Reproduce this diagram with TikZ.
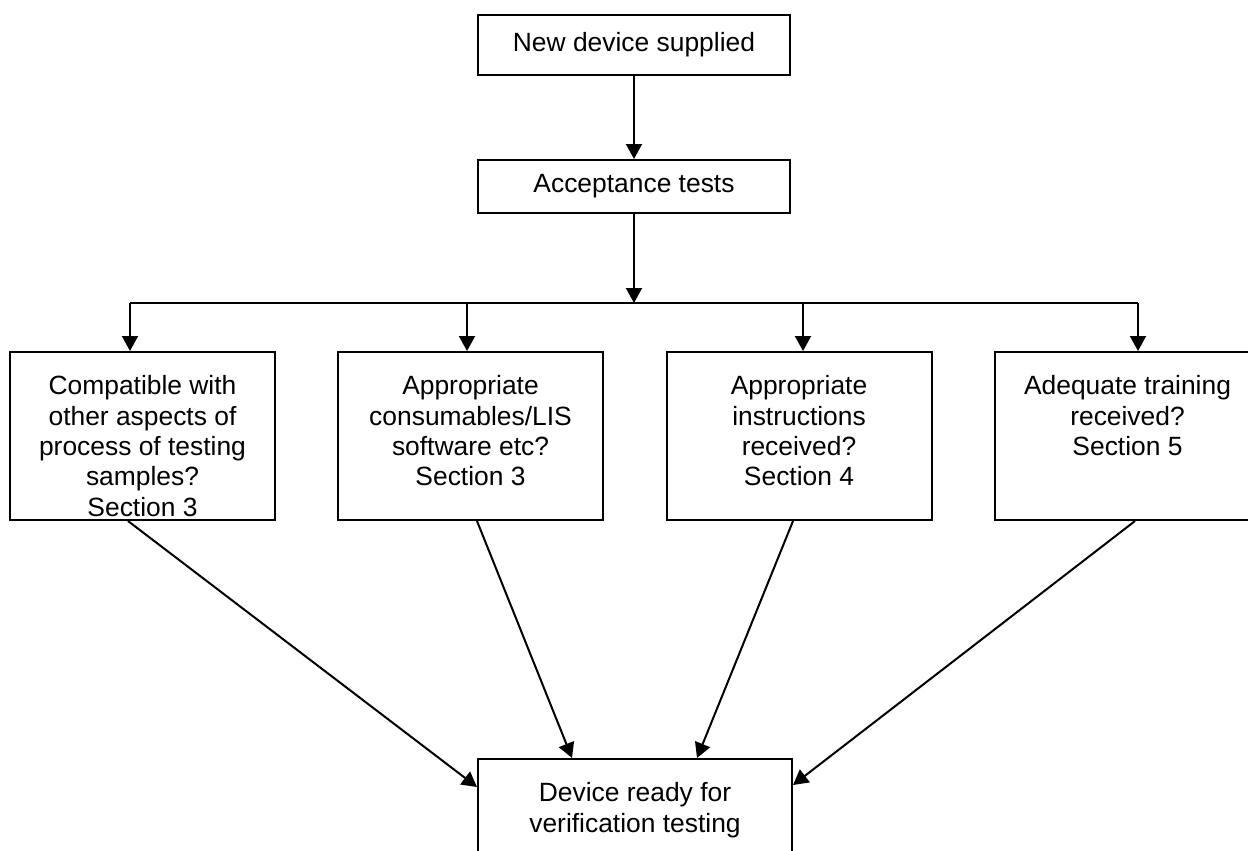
\documentclass[tikz,border=0pt]{standalone}
\usepackage{fontspec}
\setmainfont{Liberation Sans}
\usetikzlibrary{arrows.meta,positioning}

% lines hung from the first baseline, so text sits at the top of a box
\newcommand{\qlines}[1]{\begin{tabular}[t]{@{}c@{}}#1\end{tabular}}

\begin{document}
\begin{tikzpicture}[
  x=0.5bp, y=-0.5bp,
  font=\fontsize{13.2bp}{15.2bp}\selectfont,
  box/.style={draw, line width=1bp, inner xsep=3bp, fill=white},
  tbox/.style={box, minimum width=156bp, minimum height=30bp},
  qbox/.style={box, anchor=north, minimum width=132.5bp, inner ysep=10.5bp,
    text height=10.8bp, text depth=52.2bp},
  arr/.style={-{Triangle[length=7.5bp, width=8bp]}, line width=1bp},
  link/.style={line width=1bp}
]
\path[use as bounding box] (0,0) rectangle (1248,850);
\clip (0,0) rectangle (1248,850);

% intake chain
\node[tbox] (new) at (634,45) {New device supplied};
\node[tbox, minimum height=26.5bp] (acc) at (634,186.5) {Acceptance tests};
\coordinate (j) at (634,303);

% the four checks
\node[qbox] (b1) at (142.5,351) {\qlines{Compatible with\\other aspects of\\process of testing\\samples?\\Section 3}};
\node[qbox] (b2) at (470.5,351) {\qlines{Appropriate\\consumables/LIS\\software etc?\\Section 3}};
\node[qbox] (b3) at (799,351) {\qlines{Appropriate\\instructions\\received?\\Section 4}};
\node[qbox] (b4) at (1127.5,351) {\qlines{Adequate training\\received?\\Section 5}};

\node[qbox, minimum width=157bp] (fin) at (635,758) {\qlines{Device ready for\\verification testing}};

% down to the split
\draw[arr] (new) -- (acc);
\draw[arr] (acc) -- (j);
\draw[link] ([xshift=-6.25bp]b1.north |- j) -- ([xshift=5.25bp]b4.north |- j);
\foreach \b/\s in {b1/-6.25, b2/-1.75, b3/2, b4/5.25}
  \draw[arr] ([xshift=\s bp]\b.north |- j) -- ([xshift=\s bp]\b.north);

% back together
\draw[arr] ([xshift=-7.25bp]b1.south) -- ([yshift=-14.5bp]fin.north west);
\draw[arr] ([xshift=3.25bp]b2.south) -- ([xshift=-31.5bp]fin.north);
\draw[arr] ([xshift=-3bp]b3.south) -- ([xshift=31bp]fin.north);
\draw[arr] ([xshift=3.75bp]b4.south) -- ([yshift=-13.5bp]fin.north east);
\end{tikzpicture}
\end{document}
